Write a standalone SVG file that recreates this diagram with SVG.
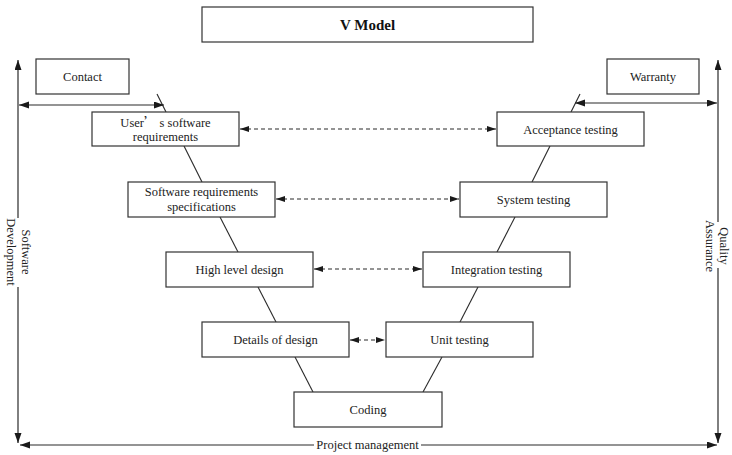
<svg xmlns="http://www.w3.org/2000/svg" width="732" height="455" viewBox="0 0 732 455">
  <defs>
    <marker id="ah" markerUnits="userSpaceOnUse" markerWidth="10" markerHeight="8" refX="10" refY="3.5" orient="auto-start-reverse">
      <path d="M0,0 L10,3.5 L0,7 z" fill="#1a1a1a"/>
    </marker>
    <marker id="ahs" markerUnits="userSpaceOnUse" markerWidth="9" markerHeight="7" refX="9" refY="3" orient="auto-start-reverse">
      <path d="M0,0 L9,3 L0,6 z" fill="#1a1a1a"/>
    </marker>
    <style>
      .box { fill: #fff; stroke: #333; stroke-width: 1.2; }
      .lbl { font-family: "Liberation Serif", "Times New Roman", serif; font-size: 12.5px; fill: #222; text-anchor: middle; }
      .cjk { font-family: "Noto Sans CJK SC", "Liberation Serif", serif; }
      .title { font-family: "Liberation Serif", "Times New Roman", serif; font-size: 15px; font-weight: bold; fill: #111; text-anchor: middle; }
      .line { stroke: #2a2a2a; stroke-width: 1.1; fill: none; }
      .arr { stroke: #2a2a2a; stroke-width: 1.2; fill: none; marker-start: url(#ah); marker-end: url(#ah); }
      .arr1 { stroke: #2a2a2a; stroke-width: 1.2; fill: none; }
      .dash { stroke: #2a2a2a; stroke-width: 1.1; fill: none; stroke-dasharray: 4 3; marker-start: url(#ahs); marker-end: url(#ahs); }
    </style>
  </defs>

  <!-- title -->
  <g id="title">
    <rect class="box" x="202" y="7" width="331" height="35"/>
    <text class="title" x="367.5" y="30">V Model</text>
  </g>

  <!-- connectors: V legs, frame arrows, dashed pairings -->
  <g id="connectors">
    <!-- left leg of the V -->
    <line class="line" x1="157" y1="94" x2="166" y2="112"/>
    <line class="line" x1="184" y1="146" x2="202" y2="182"/>
    <line class="line" x1="220" y1="217" x2="238" y2="252"/>
    <line class="line" x1="258" y1="287" x2="276" y2="322"/>
    <line class="line" x1="295" y1="357" x2="313" y2="392"/>
    <!-- right leg of the V -->
    <line class="line" x1="580" y1="94" x2="571" y2="112"/>
    <line class="line" x1="550" y1="146" x2="532" y2="182"/>
    <line class="line" x1="515" y1="217" x2="497" y2="252"/>
    <line class="line" x1="478" y1="287" x2="460" y2="322"/>
    <line class="line" x1="442" y1="357" x2="423" y2="392"/>

    <!-- contact / warranty spans -->
    <line class="arr" x1="19" y1="105" x2="164" y2="105"/>
    <line class="arr" x1="575" y1="103" x2="717" y2="103"/>

    <!-- left frame: Software Development -->
    <line class="arr1" x1="18" y1="218" x2="18" y2="60" marker-end="url(#ah)"/>
    <line class="arr1" x1="18" y1="287" x2="18" y2="443" marker-end="url(#ah)"/>
    <!-- right frame: Quality Assurance -->
    <line class="arr1" x1="718" y1="222" x2="718" y2="60" marker-end="url(#ah)"/>
    <line class="arr1" x1="718" y1="268" x2="718" y2="443" marker-end="url(#ah)"/>
    <!-- bottom frame: Project management -->
    <line class="arr1" x1="314" y1="445" x2="20" y2="445" marker-end="url(#ah)"/>
    <line class="arr1" x1="421" y1="445" x2="717" y2="445" marker-end="url(#ah)"/>

    <!-- dashed pairings -->
    <line class="dash" x1="240" y1="129" x2="496" y2="129"/>
    <line class="dash" x1="276" y1="199" x2="459" y2="199"/>
    <line class="dash" x1="314" y1="269" x2="422" y2="269"/>
    <line class="dash" x1="350" y1="340" x2="385" y2="340"/>
  </g>

  <!-- frame labels -->
  <g id="software-development">
    <text class="lbl" transform="translate(0,252) rotate(90)"><tspan x="0" y="-21.5">Software</tspan><tspan x="0" y="-7">Development</tspan></text>
  </g>
  <g id="quality-assurance">
    <text class="lbl" transform="translate(732,246) rotate(90)"><tspan x="0" y="12">Quality</tspan><tspan x="0" y="26.5">Assurance</tspan></text>
  </g>
  <g id="project-management">
    <text class="lbl" x="367.5" y="449">Project management</text>
  </g>

  <!-- nodes -->
  <g id="contact">
    <rect class="box" x="36" y="59" width="93" height="35"/>
    <text class="lbl" x="82.5" y="81">Contact</text>
  </g>
  <g id="warranty">
    <rect class="box" x="607" y="59" width="92" height="35"/>
    <text class="lbl" x="653" y="81">Warranty</text>
  </g>
  <g id="user-requirements">
    <rect class="box" x="92" y="112" width="147" height="34"/>
    <text class="lbl"><tspan x="165.5" y="126.5">User<tspan class="cjk">’</tspan> s software</tspan><tspan x="165.5" y="141">requirements</tspan></text>
  </g>
  <g id="acceptance-testing">
    <rect class="box" x="497" y="112" width="147" height="34"/>
    <text class="lbl" x="570.5" y="133.5">Acceptance testing</text>
  </g>
  <g id="requirements-specifications">
    <rect class="box" x="128" y="182" width="147" height="35"/>
    <text class="lbl"><tspan x="201.5" y="196">Software requirements</tspan><tspan x="201.5" y="211">specifications</tspan></text>
  </g>
  <g id="system-testing">
    <rect class="box" x="460" y="182" width="147" height="35"/>
    <text class="lbl" x="533.5" y="204">System testing</text>
  </g>
  <g id="high-level-design">
    <rect class="box" x="166" y="252" width="147" height="35"/>
    <text class="lbl" x="239.5" y="274">High level design</text>
  </g>
  <g id="integration-testing">
    <rect class="box" x="423" y="252" width="147" height="35"/>
    <text class="lbl" x="496.5" y="274">Integration testing</text>
  </g>
  <g id="details-of-design">
    <rect class="box" x="202" y="322" width="147" height="35"/>
    <text class="lbl" x="275.5" y="344">Details of design</text>
  </g>
  <g id="unit-testing">
    <rect class="box" x="386" y="322" width="147" height="35"/>
    <text class="lbl" x="459.5" y="344">Unit testing</text>
  </g>
  <g id="coding">
    <rect class="box" x="294" y="392" width="148" height="35"/>
    <text class="lbl" x="368" y="414">Coding</text>
  </g>
</svg>
